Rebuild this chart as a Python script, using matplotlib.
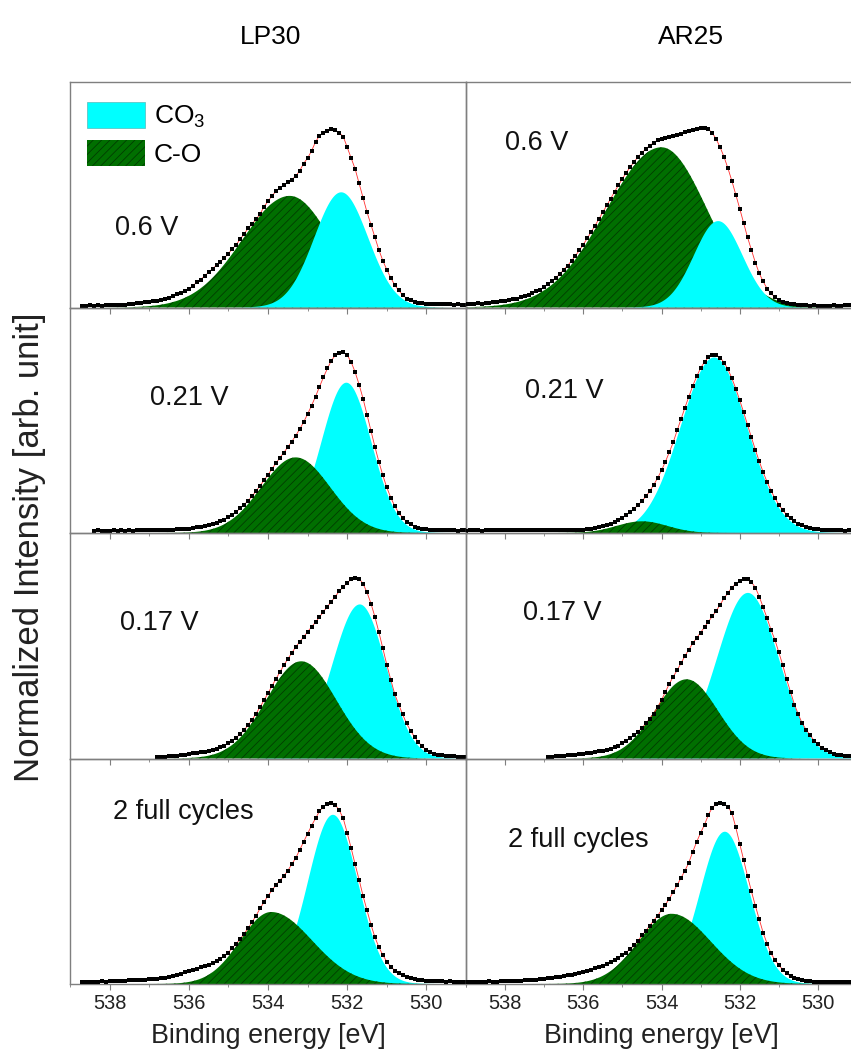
import numpy as np
import matplotlib.pyplot as plt
from matplotlib.patches import Patch

plt.rcParams['font.family'] = ['Liberation Sans', 'DejaVu Sans']
plt.rcParams['mathtext.fontset'] = 'custom'
plt.rcParams['mathtext.rm'] = 'Liberation Sans'
plt.rcParams['hatch.linewidth'] = 0.6

# =============================
# MEASURED O 1s SPECTRA (normalized), 0.1 eV steps from the start energy
# =============================
step = 0.1

lp30_06_start = 538.7
lp30_06 = [.010, .010, .012, .010, .012, .010, .013, .012, .014, .013,
           .015, .016, .018, .020, .023, .026, .029, .031, .034, .037,
           .041, .047, .055, .063, .073, .083, .093, .104, .120, .140,
           .155, .175, .195, .215, .235, .255, .275, .300, .325, .350,
           .380, .410, .440, .465, .490, .520, .560, .590, .620, .645,
           .665, .680, .695, .710, .730, .760, .800, .830, .870, .920,
           .955, .970, .980, .990, .985, .970, .950, .890, .830, .770,
           .690, .610, .530, .460, .390, .320, .260, .210, .165, .125,
           .095, .070, .050, .040, .032, .027, .025, .022, .020, .020,
           .018, .020, .017, .018, .015, .017, .015, .016]

ar25_06_start = 539.0
ar25_06 = [.020, .022, .019, .024, .022, .027, .025, .030, .030, .036,
           .036, .042, .045, .050, .057, .063, .070, .080, .090, .100,
           .115, .130, .147, .165, .186, .210, .233, .260, .288, .318,
           .350, .384, .420, .455, .492, .530, .567, .605, .643, .680,
           .715, .750, .780, .810, .836, .860, .880, .900, .915, .930,
           .935, .940, .945, .955, .960, .965, .975, .980, .985, .990,
           1.000, 1.000, .990, .970, .935, .890, .836, .773, .703, .627,
           .550, .470, .390, .320, .250, .190, .145, .105, .078, .058,
           .043, .033, .026, .021, .018, .016, .013, .012, .010, .012,
           .009, .011, .008, .010, .012, .009, .011, .014, .012, .010, .012]

lp30_021_start = 538.4
lp30_021 = [.012, .014, .011, .013, .012, .014, .012, .015, .013, .014,
            .013, .015, .014, .016, .015, .017, .016, .018, .017, .018,
            .019, .020, .021, .023, .025, .028, .031, .034, .038, .043,
            .049, .056, .065, .075, .087, .100, .118, .137, .158, .180,
            .205, .233, .263, .293, .323, .356, .387, .418, .447, .477,
            .508, .541, .577, .616, .661, .708, .758, .812, .865, .914,
            .958, .988, 1.000, 1.005, .988, .950, .894, .825, .747, .658,
            .568, .479, .396, .320, .253, .197, .150, .113, .085, .063,
            .048, .036, .028, .024, .020, .018, .017, .016, .015, .016,
            .014, .015, .013, .015, .014]

ar25_021_start = 539.0
ar25_021 = [.013, .016, .014, .015, .013, .016, .014, .015, .017, .015,
            .016, .017, .016, .018, .017, .018, .016, .017, .015, .016,
            .017, .015, .016, .014, .016, .015, .017, .016, .018, .017,
            .019, .022, .025, .029, .033, .039, .046, .052, .063, .074,
            .086, .101, .117, .135, .155, .177, .203, .233, .267, .305,
            .348, .396, .449, .504, .570, .633, .697, .758, .818, .870,
            .916, .951, .976, .989, .988, .975, .947, .909, .860, .802,
            .738, .671, .601, .531, .463, .398, .338, .284, .236, .194,
            .158, .127, .102, .081, .065, .052, .043, .035, .029, .025,
            .022, .019, .018, .016, .015, .014, .015, .013, .014, .015, .013]

lp30_017_start = 536.8
lp30_017 = [.006, .008, .010, .012, .014, .016, .019, .022, .025, .028,
            .031, .034, .038, .043, .048, .054, .062, .072, .085, .100,
            .116, .137, .159, .186, .216, .250, .286, .324, .362, .403,
            .442, .480, .518, .553, .586, .620, .648, .675, .704, .731,
            .757, .786, .816, .843, .872, .900, .930, .953, .976, .995,
            1.005, 1.000, .971, .923, .861, .787, .702, .612, .521, .438,
            .358, .300, .245, .195, .155, .120, .090, .067, .048, .035,
            .026, .020, .017, .015, .013, .012, .011, .010, .011]

ar25_017_start = 536.9
ar25_017 = [.008, .010, .012, .013, .015, .017, .019, .021, .023, .026,
            .028, .031, .035, .039, .044, .049, .055, .062, .072, .085,
            .100, .115, .130, .148, .170, .195, .222, .250, .285, .325,
            .370, .415, .455, .490, .530, .570, .605, .640, .670, .700,
            .730, .760, .790, .820, .855, .890, .920, .950, .970, .985,
            .995, .995, .980, .950, .900, .840, .780, .715, .660, .590,
            .520, .440, .370, .300, .245, .195, .160, .130, .100, .078,
            .060, .046, .035, .027, .021, .017, .014, .013, .012, .012]

lp30_2cyc_start = 538.7
lp30_2cyc = [.010, .012, .011, .013, .012, .014, .013, .015, .016, .017,
             .018, .019, .020, .021, .022, .024, .025, .026, .028, .030,
             .032, .036, .040, .046, .052, .058, .065, .072, .079, .086,
             .093, .100, .108, .117, .127, .140, .155, .175, .200, .225,
             .250, .280, .310, .345, .380, .420, .455, .490, .520, .550,
             .575, .600, .630, .665, .700, .745, .790, .835, .880, .920,
             .960, .985, 1.000, 1.005, .995, .965, .920, .840, .755, .665,
             .580, .490, .410, .330, .260, .205, .160, .125, .097, .075,
             .060, .048, .039, .032, .027, .023, .020, .018, .016, .015,
             .014, .015, .013, .014, .012, .013, .012, .012]

ar25_2cyc_start = 539.0
ar25_2cyc = [.010, .012, .010, .013, .011, .012, .014, .012, .013, .015,
             .014, .016, .017, .018, .019, .020, .021, .023, .025, .027,
             .029, .031, .034, .037, .040, .044, .048, .052, .057, .062,
             .067, .073, .080, .087, .094, .102, .111, .121, .133, .146,
             .160, .175, .195, .215, .240, .270, .295, .325, .352, .380,
             .410, .440, .475, .510, .550, .590, .630, .675, .735, .790,
             .840, .885, .940, .980, 1.000, 1.005, 1.000, .985, .950, .870,
             .780, .690, .600, .515, .435, .360, .285, .225, .170, .135,
             .105, .080, .060, .042, .033, .026, .021, .017, .014, .013,
             .012, .011, .012, .011, .010, .012, .011, .010, .012, .011, .010]

# =============================
# FIT COMPONENTS: center [eV], height, width high-BE side, width low-BE side
# =============================
co3_fit = {
    'lp30_06': (532.15, 0.64, 0.68, 0.68),
    'ar25_06': (532.55, 0.48, 0.62, 0.62),
    'lp30_021': (532.02, 0.835, 0.63, 0.63),
    'ar25_021': (532.65, 0.975, 0.86, 0.84),
    'lp30_017': (531.68, 0.856, 0.70, 0.66),
    'ar25_017': (531.79, 0.92, 0.79, 0.79),
    'lp30_2cyc': (532.36, 0.94, 0.63, 0.63),
    'ar25_2cyc': (532.38, 0.846, 0.63, 0.63),
}
co_fit = {
    'lp30_06': (533.45, 0.62, 1.20, 1.05),
    'ar25_06': (534.00, 0.89, 1.42, 1.18),
    'lp30_021': (533.30, 0.42, 0.87, 0.87),
    'ar25_021': (534.50, 0.065, 0.65, 0.65),
    'lp30_017': (533.16, 0.54, 0.88, 0.88),
    'ar25_017': (533.36, 0.44, 0.81, 0.80),
    'lp30_2cyc': (533.92, 0.40, 0.78, 1.03),
    'ar25_2cyc': (533.74, 0.39, 0.85, 1.00),
}

row_labels = ['0.6 V', '0.21 V', '0.17 V', '2 full cycles']

# =============================
# LAYOUT (pixels of the 851 x 1055 figure)
# =============================
W, H = 851, 1055
top, row_h = 82, 225.5
col_x = [70, 466]
col_w = [396, 391]
green = '#006f00'
hatch_col = '#003c00'
cyan = '#00ffff'
spine_col = '#7f7f7f'

panels = [
    # key, data, start, row, col, label position (x, baseline y), cyan on top
    ('lp30_06', lp30_06, lp30_06_start, 0, 0, (115, 235), True),
    ('ar25_06', ar25_06, ar25_06_start, 0, 1, (505, 150), True),
    ('lp30_021', lp30_021, lp30_021_start, 1, 0, (150, 405), False),
    ('ar25_021', ar25_021, ar25_021_start, 1, 1, (525, 398), False),
    ('lp30_017', lp30_017, lp30_017_start, 2, 0, (120, 630), False),
    ('ar25_017', ar25_017, ar25_017_start, 2, 1, (523, 620), False),
    ('lp30_2cyc', lp30_2cyc, lp30_2cyc_start, 3, 0, (113, 819), False),
    ('ar25_2cyc', ar25_2cyc, ar25_2cyc_start, 3, 1, (508, 847), False),
]


def peak(e, c, h, wl, wr):
    w = np.where(e >= c, wl, wr)
    return h * np.exp(-(e - c) ** 2 / (2 * w ** 2))


fig = plt.figure(figsize=(W / 100, H / 100), dpi=100)

for key, vals, e0, r, c, (lx, ly), cyan_top in panels:
    y0 = 1 - (top + (r + 1) * row_h) / H
    ax = fig.add_axes([col_x[c] / W, y0, col_w[c] / W, row_h / H])
    ax.set_facecolor('none')
    vals = np.array(vals)
    e = e0 - step * np.arange(len(vals))

    ef = np.linspace(e0, e[-1], 800)
    yc = peak(ef, *co3_fit[key])
    yg = peak(ef, *co_fit[key])
    zc, zg = (2, 1) if cyan_top else (1, 2)
    ax.fill_between(ef, 0, yc, facecolor=cyan, edgecolor='none', lw=0, zorder=zc)
    ax.fill_between(ef, 0, yg, facecolor=green, edgecolor=hatch_col, hatch='////',
                    lw=0, zorder=zg)

    ax.plot(e, vals, color='#ff3030', lw=0.6, zorder=3)
    ax.plot(e, vals, ls='none', marker='s', ms=3.3, mfc='black', mec='black',
            mew=0, zorder=4)

    ax.set_xlim(539, 529)
    ax.set_ylim(0, row_h / 180)
    ax.set_yticks([])
    ax.set_xticks([538, 536, 534, 532, 530])
    ax.set_xticks(np.arange(529, 540, 1), minor=True)
    ax.tick_params(axis='x', which='both', direction='out', color=spine_col,
                   labelsize=14.4, labelcolor='#222222', pad=3)
    ax.tick_params(axis='x', which='major', length=4)
    ax.tick_params(axis='x', which='minor', length=2)
    if r < 3:
        ax.tick_params(axis='x', labelbottom=False)
    for s in ax.spines.values():
        s.set_color(spine_col)
        s.set_linewidth(1.0)

    fig.text(lx / W, 1 - ly / H, row_labels[r], fontsize=19.5, color='#111111',
             ha='left', va='baseline')

    if key == 'lp30_06':
        handles = [Patch(facecolor=cyan, edgecolor='#55bbbb', lw=0.5, label='CO$_3$'),
                   Patch(facecolor=green, edgecolor=hatch_col, hatch='////', lw=0,
                         label='C-O')]
        ax.legend(handles=handles, loc='upper left', bbox_to_anchor=(87 / W, 1 - 102 / H),
                  bbox_transform=fig.transFigure, frameon=False, fontsize=19,
                  borderpad=0, borderaxespad=0, handlelength=2.2, handleheight=1.13,
                  labelspacing=0.36, handletextpad=0.34)

# column titles and axis labels
fig.text(271 / W, 1 - 44 / H, 'LP30', fontsize=19, ha='center', va='baseline')
fig.text(691 / W, 1 - 44 / H, 'AR25', fontsize=19, ha='center', va='baseline')
fig.text(268 / W, 1 - 1043 / H, 'Binding energy [eV]', fontsize=19.4,
         ha='center', va='baseline', color='#222222')
fig.text(661 / W, 1 - 1043 / H, 'Binding energy [eV]', fontsize=19.4,
         ha='center', va='baseline', color='#222222')
fig.text(30 / W, 1 - 547 / H, 'Normalized Intensity [arb. unit]', fontsize=25,
         rotation=90, ha='center', va='center', color='#222222')

fig.savefig('out.png', dpi=100)
